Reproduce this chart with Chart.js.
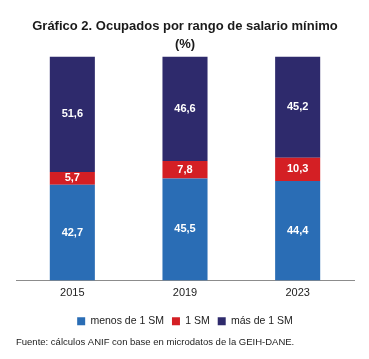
<!DOCTYPE html>
<html>
<head>
<meta charset="utf-8">
<script src="https://cdn.jsdelivr.net/npm/chart.js@4"></script>
<style>
html,body{margin:0;padding:0;background:#fff;}
#wrap{position:relative;width:369px;height:359px;}
</style>
</head>
<body>
<div id="wrap"><canvas id="c" width="369" height="359"></canvas></div>
<script>
const categories = ['2015', '2019', '2023'];
const menos1SM = [42.7, 45.5, 44.4];
const uno1SM = [5.7, 7.8, 10.3];
const mas1SM = [51.6, 46.6, 45.2];
const seriesNames = ['menos de 1 SM', '1 SM', 'más de 1 SM'];
const titleLines = ['Gráfico 2. Ocupados por rango de salario mínimo', '(%)'];
const sourceText = 'Fuente: cálculos ANIF con base en microdatos de la GEIH-DANE.';

const colors = ['#2a6db5', '#d41f24', '#2e2a6c'];
const font = '"Liberation Sans", Arial, sans-serif';

const labelPlugin = {
  id: 'barLabels',
  afterDatasetsDraw(chart) {
    const ctx = chart.ctx;
    ctx.save();
    ctx.font = 'bold 11px ' + font;
    ctx.fillStyle = '#ffffff';
    ctx.textAlign = 'center';
    ctx.textBaseline = 'middle';
    chart.data.datasets.forEach((ds, di) => {
      const meta = chart.getDatasetMeta(di);
      meta.data.forEach((bar, i) => {
        const v = ds.data[i];
        const y = (bar.y + bar.base) / 2;
        ctx.fillText(v.toFixed(1).replace('.', ','), bar.x, y);
      });
    });
    ctx.restore();
  }
};

new Chart(document.getElementById('c'), {
  type: 'bar',
  data: {
    labels: categories,
    datasets: [
      { label: seriesNames[0], data: menos1SM, backgroundColor: colors[0] },
      { label: seriesNames[1], data: uno1SM, backgroundColor: colors[1] },
      { label: seriesNames[2], data: mas1SM, backgroundColor: colors[2] }
    ]
  },
  options: {
    responsive: false,
    animation: false,
    layout: { padding: { left: 16, right: 15, top: 4, bottom: 4 } },
    datasets: { bar: { barPercentage: 0.4, categoryPercentage: 1.0 } },
    scales: {
      x: {
        stacked: true,
        grid: { display: false, drawTicks: false },
        border: { display: true, color: '#8c8c8c', width: 1 },
        ticks: { color: '#222', font: { family: font, size: 11 }, padding: 6 },
        afterFit(scale) { scale.height += 2.5; }
      },
      y: {
        stacked: true,
        display: false,
        min: 0, max: 100
      }
    },
    plugins: {
      title: {
        display: true,
        text: titleLines,
        color: '#1a1a1a',
        font: { family: font, size: 13, weight: 'bold', lineHeight: 1.4 },
        padding: { top: 13, bottom: 3 }
      },
      subtitle: {
        display: true,
        text: sourceText,
        position: 'bottom',
        align: 'start',
        color: '#222',
        font: { family: font, size: 9.5 },
        padding: { top: 0, bottom: 7 }
      },
      legend: {
        position: 'bottom',
        labels: {
          boxWidth: 8, boxHeight: 8,
          color: '#222',
          font: { family: font, size: 10.5 },
          padding: 8
        }
      },
      tooltip: { enabled: false }
    }
  },
  plugins: [labelPlugin]
});
</script>
</body>
</html>
